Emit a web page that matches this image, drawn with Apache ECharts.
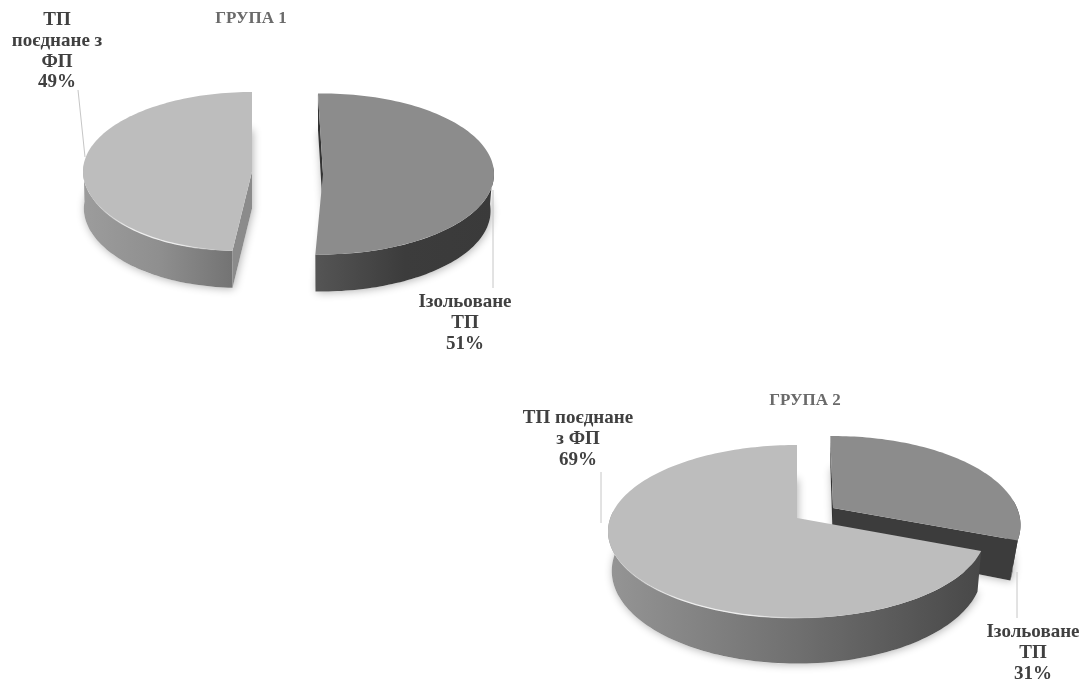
<!DOCTYPE html>
<html>
<head>
<meta charset="utf-8">
<title>Групи</title>
<script src="https://cdn.jsdelivr.net/npm/echarts@6/dist/echarts.min.js"></script>
<style>html,body{margin:0;padding:0;background:#fff}#chart{width:1091px;height:681px}</style>
</head>
<body>
<div id="chart"></div>
<script>
// Values of the two groups, in per cent
const groupTitles = ['ГРУПА 1', 'ГРУПА 2'];
const groupOneNames = ['Ізольоване\nТП', 'ТП\nпоєднане з\nФП'];
const groupOneValues = [51, 49];
const groupTwoNames = ['Ізольоване\nТП', 'ТП поєднане\nз ФП'];
const groupTwoValues = [31, 69];

const LIGHT_TOP = '#bdbdbd', DARK_TOP = '#8c8c8c';
const TEXT_FONT = 'bold 19px "Liberation Serif"';

// Placement of each exploded wedge: apex, ellipse radii, perspective strength,
// sideways drift of the near rim, first angle (clockwise from the top),
// thickness and wall shading.
const wedges = [
  { ax: 323, ay: 174, rx: 171, ry: 80.5, p: 0, drift: 2, start: -1.7, depth: 37, shrink: 0.98, top: DARK_TOP,
    wall: ['#555555', '#3c3c3c', '#3a3a3a'], wallFrom: 315, wallTo: 494, radial: [{ at: 'start', fill: '#333333' }],
    leader: [[493, 190], [493, 288]], labelX: 465, labelY: 292 },
  { ax: 252, ay: 171.5, rx: 169, ry: 79.5, p: 0, drift: 9, start: 183.6, depth: 37, shrink: 0.995, top: LIGHT_TOP,
    wall: ['#9c9c9c', '#8f8f8f', '#737373'], wallFrom: 84, wallTo: 233, radial: [{ at: 'start', fill: '#8b8b8b' }],
    bevel: [188, 290], leader: [[78, 90], [85, 157]], labelX: 57, labelY: 10 },
  { ax: 833, ay: 508, rx: 184, ry: 85.8, p: 0.192, drift: 0, start: -1, depth: 37.5, shrink: 0.96, top: DARK_TOP,
    wall: ['#3c3c3c', '#3c3c3c', '#3c3c3c'], wallFrom: 833, wallTo: 1020,
    radial: [{ at: 'start', fill: '#333333' }, { at: 'end', fill: '#3c3c3c' }],
    leader: [[1017, 572], [1017, 618]], labelX: 1033, labelY: 622 },
  { ax: 797, ay: 518, rx: 186.7, ry: 84.4, p: 0.156, drift: 0, start: 111.6, depth: 38.5, shrink: 0.98, top: LIGHT_TOP,
    wall: ['#959595', '#707070', '#484848'], wallFrom: 608, wallTo: 980, radial: [],
    bevel: [175, 278], leader: [[601, 472], [601, 523]], labelX: 578, labelY: 408 }
];

const sliceData = [
  { name: groupOneNames[0], value: groupOneValues[0] },
  { name: groupOneNames[1], value: groupOneValues[1] },
  { name: groupTwoNames[0], value: groupTwoValues[0] },
  { name: groupTwoNames[1], value: groupTwoValues[1] }
];

// Projects an angle on the disc rim to the screen; lowered = on the underside
function rimPoint(w, deg, lowered) {
  const t = deg * Math.PI / 180;
  const u = Math.sin(t), v = -Math.cos(t);
  const persp = 1 - w.p * v;
  let x = w.rx * u / persp - w.drift * Math.pow(Math.max(v, 0), 3);
  let y = w.ry * v / persp;
  if (lowered) { x *= w.shrink; y += w.depth / persp; }
  return [w.ax + x, w.ay + y];
}

function arcPoints(w, from, to, lowered) {
  const pts = [];
  const steps = Math.max(2, Math.ceil(Math.abs(to - from) / 1.5));
  for (let i = 0; i <= steps; i++) pts.push(rimPoint(w, from + (to - from) * i / steps, lowered));
  return pts;
}

function hGradient(x, x2, colors) {
  return {
    type: 'linear', x: x, y: 0, x2: x2, y2: 0, global: true,
    colorStops: colors.map((c, i) => ({ offset: i / (colors.length - 1), color: c }))
  };
}

// Soft contact shadow under a wedge
function renderShadow(params, api) {
  const w = wedges[params.dataIndex];
  const end = w.start + api.value(0) * 3.6;
  const pts = arcPoints(w, w.start, end, true);
  pts.push([w.ax, w.ay + w.depth]);
  return {
    type: 'polygon', silent: true, shape: { points: pts },
    style: { fill: '#ffffff', shadowBlur: 9, shadowColor: 'rgba(0,0,0,0.3)', shadowOffsetX: 1, shadowOffsetY: 1 }
  };
}

function renderWedge(params, api) {
  const w = wedges[params.dataIndex];
  const end = w.start + api.value(0) * 3.6;
  const children = [];

  // Flat cut faces
  w.radial.forEach(r => {
    const deg = r.at === 'start' ? w.start : end;
    children.push({
      type: 'polygon', silent: true,
      shape: { points: [[w.ax, w.ay], rimPoint(w, deg, false), rimPoint(w, deg, true), [w.ax, w.ay + w.depth]] },
      style: { fill: r.fill }
    });
  });

  // Curved outer wall: only the part of the rim facing the viewer
  const from = Math.max(w.start, 85), to = Math.min(end, 275);
  if (to > from) {
    const wall = arcPoints(w, from, to, false).concat(arcPoints(w, to, from, true));
    children.push({
      type: 'polygon', silent: true, shape: { points: wall },
      style: { fill: hGradient(w.wallFrom, w.wallTo, w.wall) }
    });
  }

  // Top face
  children.push({
    type: 'polygon', silent: true,
    shape: { points: [[w.ax, w.ay]].concat(arcPoints(w, w.start, end, false)) },
    style: { fill: w.top }
  });

  // Bright bevel along the front rim
  if (w.bevel) {
    const edge = arcPoints(w, w.bevel[0], w.bevel[1], false);
    children.push({
      type: 'polyline', silent: true, shape: { points: edge },
      style: {
        fill: 'none', lineWidth: 1.3,
        stroke: hGradient(edge[edge.length - 1][0], edge[0][0],
          ['rgba(240,240,240,0)', 'rgba(240,240,240,0.95)', 'rgba(240,240,240,0.95)', 'rgba(240,240,240,0)'])
      }
    });
  }

  // Leader line and data label
  children.push({
    type: 'polyline', silent: true, shape: { points: w.leader },
    style: { fill: 'none', stroke: '#c6c6c6', lineWidth: 1 }
  });
  children.push({
    type: 'text', silent: true,
    style: {
      text: sliceData[params.dataIndex].name + '\n' + api.value(0) + '%',
      x: w.labelX, y: w.labelY, align: 'center', verticalAlign: 'top',
      font: TEXT_FONT, lineHeight: 20.7, fill: '#404040'
    }
  });
  return { type: 'group', children: children };
}

const titleStyle = { fontFamily: 'Liberation Serif', fontWeight: 'bold', fontSize: 17, color: '#6a6a6a' };
const chart = echarts.init(document.getElementById('chart'), null, { renderer: 'canvas' });
chart.setOption({
  animation: false,
  backgroundColor: '#ffffff',
  title: [
    { text: groupTitles[0], left: 246, top: 5, textAlign: 'center', textStyle: titleStyle },
    { text: groupTitles[1], left: 800, top: 387, textAlign: 'center', textStyle: titleStyle }
  ],
  series: [
    { type: 'custom', coordinateSystem: 'none', z: 1, silent: true, renderItem: renderShadow, data: sliceData },
    { type: 'custom', coordinateSystem: 'none', z: 2, silent: true, renderItem: renderWedge, data: sliceData }
  ]
});
</script>
</body>
</html>
